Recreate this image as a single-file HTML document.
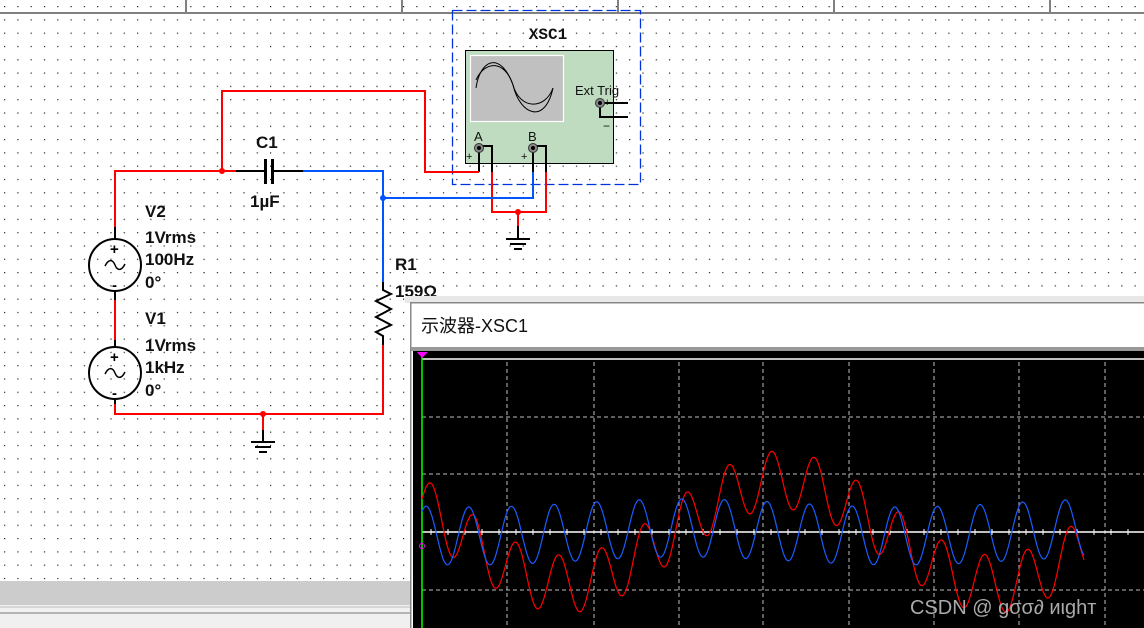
<!DOCTYPE html>
<html><head><meta charset="utf-8"><style>
html,body{margin:0;padding:0;width:1144px;height:628px;overflow:hidden;background:#fff}
svg{display:block}
.t{font-family:"Liberation Sans",Arial,sans-serif;font-weight:bold;font-size:17px;fill:#111}
</style></head><body>
<svg width="1144" height="628" viewBox="0 0 1144 628" xmlns="http://www.w3.org/2000/svg">
<defs>
<pattern id="dots" x="4" y="6" width="13.3" height="13.3" patternUnits="userSpaceOnUse">
<rect x="0" y="0" width="1.2" height="1.2" fill="#222"/></pattern>
</defs>
<rect width="1144" height="628" fill="#fff"/>
<rect width="1144" height="628" fill="url(#dots)"/>
<g stroke="#808080" stroke-width="2">
<line x1="0" y1="13" x2="1144" y2="13"/>
<line x1="186" y1="0" x2="186" y2="13"/><line x1="402" y1="0" x2="402" y2="13"/>
<line x1="618" y1="0" x2="618" y2="13"/><line x1="834" y1="0" x2="834" y2="13"/>
<line x1="1050" y1="0" x2="1050" y2="13"/>
</g>
<rect x="452.5" y="10.5" width="188" height="174" fill="none" stroke="#0033dd" stroke-width="1.3" stroke-dasharray="10,4"/>
<text x="548" y="39" text-anchor="middle" font-family="Liberation Mono,monospace" font-weight="bold" font-size="16" fill="#111">XSC1</text>
<rect x="465.5" y="50.5" width="148" height="113" fill="#c0dcc0" stroke="#000"/>
<rect x="470.5" y="55.5" width="93" height="66" fill="#c0c0c0" stroke="#fff" stroke-width="1.2"/>
<path d="M476 88 C480 60,500 50,513 85 C520 115,545 125,553 88" fill="none" stroke="#000"/>
<path d="M476 80 C485 60,505 60,513 85 C520 110,545 110,553 88" fill="none" stroke="#000"/>
<text x="575" y="95" font-family="Liberation Sans,sans-serif" font-size="13" fill="#111">Ext Trig</text>
<text x="474" y="141" font-family="Liberation Sans,sans-serif" font-size="13" fill="#111">A</text>
<text x="528" y="141" font-family="Liberation Sans,sans-serif" font-size="13" fill="#111">B</text>
<text x="466" y="160" font-family="Liberation Sans,sans-serif" font-size="11" fill="#111">+</text>
<text x="521" y="160" font-family="Liberation Sans,sans-serif" font-size="11" fill="#111">+</text>
<text x="604" y="106" font-family="Liberation Sans,sans-serif" font-size="11" fill="#111">+</text>
<text x="603" y="130" font-family="Liberation Sans,sans-serif" font-size="12" fill="#111">−</text>
<g stroke="#000" stroke-width="2" fill="none">
<path d="M600 103 H628 M600 103 V117 H628"/>
<path d="M479 148 V172"/><path d="M479 146 H492 V172"/>
<path d="M533 148 V172"/><path d="M533 146 H546 V172"/>
</g>
<g fill="#888" stroke="#333"><circle cx="479" cy="148" r="4.5"/><circle cx="533" cy="148" r="4.5"/><circle cx="600" cy="103" r="4.5"/></g>
<g fill="#000"><circle cx="479" cy="148" r="2"/><circle cx="533" cy="148" r="2"/><circle cx="600" cy="103" r="2"/></g>
<g fill="none" stroke-width="2">
<path d="M115 230 V171 H236" stroke="#f00"/>
<path d="M222 171 V91 H425 V172 H479" stroke="#f00"/>
<path d="M492 172 V212 H546 V172" stroke="#f00"/>
<path d="M303 171 H383 V282 M383 198 H533 V172" stroke="#0055ff"/>
<path d="M383 345 V414 H115 V400" stroke="#f00"/>
<path d="M115 300 V347" stroke="#f00"/>
<path d="M263 414 V432" stroke="#f00"/>
<path d="M518 212 V228" stroke="#f00"/>
</g>
<g fill="none" stroke="#000" stroke-width="2">
<path d="M236 171 H265 M273 171 H303"/>
<path d="M265.5 159 V184 M272.5 159 V184" stroke-width="3"/>
<path d="M383 282 V290 L391 294 L376 301 L391 309 L376 317 L391 325 L376 332 L383 336 V345"/>
<path d="M115 227 V239 M115 291 V300 M115 340 V347 M115 399 V404"/>
<circle cx="115" cy="265" r="26"/><circle cx="115" cy="373" r="26"/>
<path d="M105 266 C109 258,113 260,115 265 C117 270,121 272,125 264" stroke-width="1.5"/>
<path d="M105 374 C109 366,113 368,115 373 C117 378,121 380,125 372" stroke-width="1.5"/>
<path d="M263 430 V441 M518 226 V238"/>
<path d="M251 442 H275 M255 447 H271 M259 452 H267"/>
<path d="M506 239 H530 M510 244 H526 M514 249 H522"/>
</g>
<g font-family="Liberation Sans,sans-serif" font-weight="bold" font-size="15" fill="#000">
<text x="110" y="254">+</text><text x="112" y="290">-</text>
<text x="110" y="362">+</text><text x="112" y="398">-</text></g>
<g fill="#f00"><circle cx="222" cy="171" r="3"/><circle cx="263" cy="414" r="3"/><circle cx="518" cy="212" r="3"/></g>
<circle cx="383" cy="198" r="3" fill="#0055ff"/>
<text class="t" x="256" y="148">C1</text><text class="t" x="250" y="207">1µF</text>
<text class="t" x="145" y="217">V2</text><text class="t" x="145" y="243">1Vrms</text>
<text class="t" x="145" y="265">100Hz</text><text class="t" x="145" y="288">0°</text>
<text class="t" x="145" y="324">V1</text><text class="t" x="145" y="351">1Vrms</text>
<text class="t" x="145" y="373">1kHz</text><text class="t" x="145" y="396">0°</text>
<text class="t" x="395" y="270">R1</text><text class="t" x="395" y="297">159Ω</text>
<rect x="0" y="581" width="410" height="24" fill="#cccccc"/>
<rect x="0" y="605" width="410" height="23" fill="#f0f0f0"/>
<line x1="0" y1="607" x2="410" y2="607" stroke="#bbb"/>
<line x1="0" y1="613" x2="410" y2="613" stroke="#777"/>
<rect x="405" y="296" width="739" height="7" fill="#e8e8e8"/>
<rect x="410" y="302" width="734" height="326" fill="#fff"/>
<rect x="410" y="302" width="734" height="1.5" fill="#888"/>
<rect x="410" y="302" width="1.5" height="326" fill="#888"/>
<text x="421" y="332" font-family="Liberation Sans,'Noto Sans CJK SC',sans-serif" font-size="18" fill="#111">示波器-XSC1</text>
<rect x="411" y="347" width="733" height="4" fill="#999"/>
<rect x="413" y="351" width="731" height="277" fill="#000"/>
<g stroke="#bbb" stroke-width="1" stroke-dasharray="4,3">
<line x1="507" y1="362" x2="507" y2="628"/><line x1="594" y1="362" x2="594" y2="628"/>
<line x1="679" y1="362" x2="679" y2="628"/><line x1="763" y1="362" x2="763" y2="628"/>
<line x1="849" y1="362" x2="849" y2="628"/><line x1="934" y1="362" x2="934" y2="628"/>
<line x1="1019" y1="362" x2="1019" y2="628"/><line x1="1105" y1="362" x2="1105" y2="628"/>
<line x1="422" y1="417" x2="1144" y2="417"/><line x1="422" y1="474" x2="1144" y2="474"/>
<line x1="422" y1="590" x2="1144" y2="590"/>
</g>
<line x1="422" y1="359" x2="1144" y2="359" stroke="#fff" stroke-width="1.5"/>
<line x1="422" y1="532" x2="1144" y2="532" stroke="#fff" stroke-width="1.5"/>
<g id="ticks" stroke="#fff" stroke-width="1"></g>
<line x1="422" y1="352" x2="422" y2="628" stroke="#0f0" stroke-width="1.5"/>
<path d="M417 352 H428 L422 358 Z" fill="#f0f"/>
<circle cx="422" cy="546" r="2.5" fill="none" stroke="#f0f"/>
<polyline id="red" fill="none" stroke="#f00" stroke-width="1.2"/>
<polyline id="blue" fill="none" stroke="#1a5cff" stroke-width="1.2"/>
<text x="910" y="614" font-family="Liberation Sans,sans-serif" font-size="20" fill="#aaa">CSDN @  ɡσσ∂ иιɡhт</text>
</svg>
<script>
var r=[],b=[],P=42.6,Q=430;
for(var x=422;x<=1084;x+=0.5){
 var k=2*Math.PI*(x-767)/P, s=2*Math.PI*(x-780)/Q;
 b.push(x+","+(532-29*Math.cos(k)-4*Math.cos(s+1.4)).toFixed(1));
 r.push(x+","+(532-29*Math.cos(k-0.7)-52*Math.cos(s)).toFixed(1));
}
document.getElementById("red").setAttribute("points",r.join(" "));
document.getElementById("blue").setAttribute("points",b.join(" "));
var g=document.getElementById("ticks"),h="";
for(var x=431;x<1144;x+=17){h+='<line x1="'+x+'" y1="529" x2="'+x+'" y2="535"/>';}
g.innerHTML=h;
</script>
</body></html>
